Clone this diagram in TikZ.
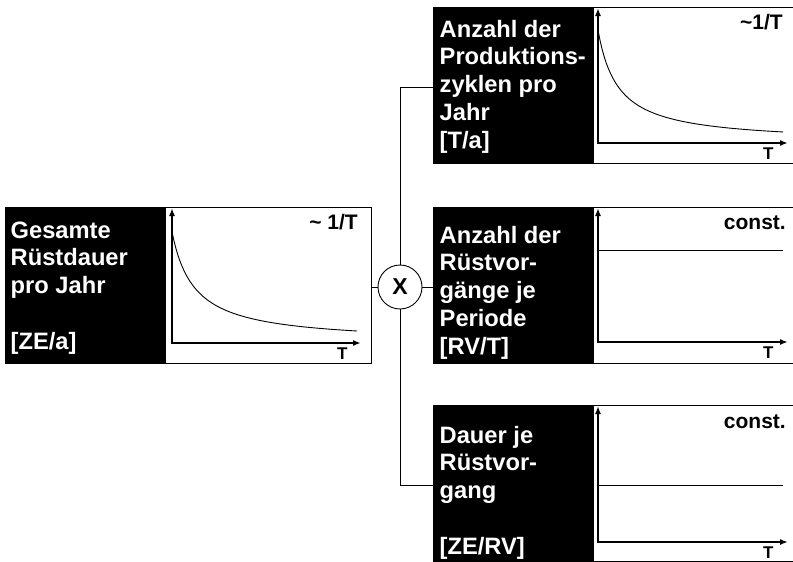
\documentclass[tikz,border=0pt]{standalone}
\usepackage{fontspec}
\setmainfont{Liberation Sans}
\usetikzlibrary{arrows.meta}
\begin{document}
\begin{tikzpicture}[x=1pt,y=-1pt,
  blackbox/.style={draw=black, fill=black, line width=0.8pt, minimum width=160pt,
    minimum height=156pt, anchor=north west, inner sep=0pt, outer sep=0pt},
  plotbox/.style={draw=black, fill=white, line width=0.8pt, minimum height=156pt,
    anchor=north west, inner sep=0pt, outer sep=0pt},
  % anchored at the baseline of the last line
  boxtext/.style={text=white, font=\fontsize{23.7}{27.7}\selectfont\bfseries,
    align=left, anchor=base west, inner sep=0pt},
  rate/.style={font=\fontsize{21}{24}\selectfont\bfseries, anchor=base east, inner sep=0pt},
  tlabel/.style={font=\fontsize{17}{19}\selectfont\bfseries, anchor=base west, inner sep=0pt},
  axes/.style={line width=1.6pt, {Latex[length=8pt,width=6pt]}-{Latex[length=8pt,width=6pt]}},
  curve/.style={line width=0.9pt},
  link/.style={line width=0.8pt},
  mulnode/.style={circle, draw=black, line width=0.9pt, minimum size=44pt, inner sep=0pt,
    font=\fontsize{23}{26}\selectfont\bfseries}
]
\clip (0,0) rectangle (793,562);

% ---- total set-up time per year ----
\node[blackbox] (lb) at (5,207) {};
\node[plotbox, minimum width=206pt] (lp) at (165,207) {};
\node[boxtext] (lt) at (10.5,349) {Gesamte\\Rüstdauer\\pro Jahr\\\mbox{}\\{[ZE/a]}};
\draw[axes] (172,208) -- (172,343) -- (361,343);
\draw[curve] plot[domain=0:185, samples=90] ({172+\x}, {343-2489/(\x+22.4)});
\node[rate] (lr) at (358,229) {\textasciitilde\ 1/T};
\node[tlabel] (ltt) at (337,359) {T};

% ---- production cycles per year ----
\node[blackbox] (tb) at (433,7) {};
\node[plotbox, minimum width=206pt] (tp) at (593,7) {};
\node[boxtext] (tt) at (439.5,148) {Anzahl der\\Produktions-\\zyklen pro\\Jahr\\{[T/a]}};
\draw[axes] (598,8) -- (598,143) -- (788,143);
\draw[curve] plot[domain=0:185, samples=90] ({598+\x}, {143-2260/(\x+20)});
\node[rate] (tr) at (783,29) {\textasciitilde1/T};
\node[tlabel] (ttt) at (763,159) {T};

% ---- set-ups per period ----
\node[blackbox] (mb) at (433,207) {};
\node[plotbox, minimum width=206pt] (mp) at (593,207) {};
\node[boxtext] (mt) at (439.5,354) {Anzahl der\\Rüstvor-\\gänge je\\Periode\\{[RV/T]}};
\draw[axes] (598,208) -- (598,342) -- (788,342);
\draw[curve] (598,250) -- (783,250);
\node[rate] (mr) at (786,229) {const.};
\node[tlabel] (mtt) at (763,358) {T};

% ---- duration per set-up ----
\node[blackbox] (bb) at (433,405) {};
\node[plotbox, minimum width=206pt] (bp) at (593,405) {};
\node[boxtext] (bt) at (439.5,554) {Dauer je\\Rüstvor-\\gang\\\mbox{}\\{[ZE/RV]}};
\draw[axes] (598,406) -- (598,542) -- (788,542);
\draw[curve] (598,485) -- (783,485);
\node[rate] (br) at (786,428) {const.};
\node[tlabel] (btt) at (763,558) {T};

% ---- multiplication node and links ----
\node[mulnode] (mul) at (400,287) {X};
\coordinate (tin) at (433,87);
\coordinate (bin) at (433,485);
\draw[link] (mul.west) -- (mul.west -| lp.east);
\draw[link] (mul.east) -- (mul.east -| mb.west);
\draw[link] (mul.north) |- (tin);
\draw[link] (mul.south) |- (bin);
\end{tikzpicture}
\end{document}
